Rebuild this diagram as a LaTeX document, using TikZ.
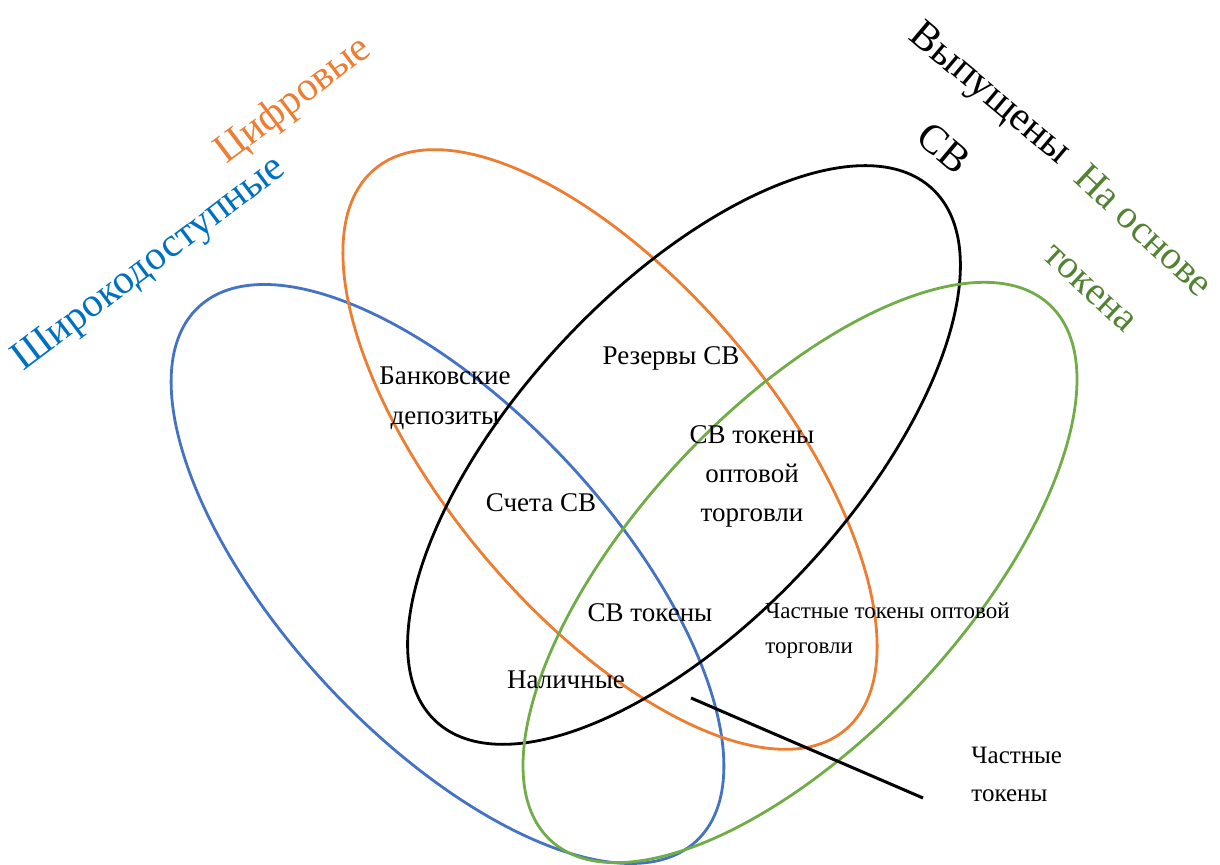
\documentclass[tikz,border=0pt]{standalone}
\usepackage{fontspec}
\setmainfont{Liberation Serif}
\definecolor{setblue}{HTML}{4472C4}
\definecolor{setorange}{HTML}{ED7D31}
\definecolor{setgreen}{HTML}{70AD47}
\definecolor{titleblue}{HTML}{0070C0}
\definecolor{titlegreen}{HTML}{548235}
\begin{document}
\begin{tikzpicture}[x=0.5pt,y=0.5pt,
  setline/.style={line width=1.4pt},
  title/.style={inner sep=0pt, align=center, font=\fontsize{20.5}{37}\selectfont},
  label/.style={inner sep=0pt, align=center, font=\fontsize{13.5}{20}\selectfont},
  smalllabel/.style={inner sep=0pt, align=left, anchor=west, font=\fontsize{12}{18}\selectfont}]
\useasboundingbox (0,0) rectangle (1220,865);

% the four sets
\draw[setline, setblue]   (447.5,291) ellipse [x radius=365, y radius=164, rotate=-47];
\draw[setline, setorange] (610,415.5) ellipse [x radius=366, y radius=165, rotate=-50];
\draw[setline, black]     (684,410)   ellipse [x radius=364, y radius=166, rotate=47];
\draw[setline, setgreen]  (800,292.5) ellipse [x radius=366, y radius=164, rotate=47];

% set titles
\node[title, text=titleblue, rotate=37] (wide) at (150,600) {Широкодоступные};
\node[title, text=setorange, rotate=37] (digital) at (294,764) {Цифровые};
\node[title, text=black, rotate=-40] (issued) at (968,745) {Выпущены\\СВ};
\node[title, text=titlegreen, rotate=-43, font=\fontsize{20}{38.5}\selectfont] (token) at (1118,607) {На основе\\токена};

% region labels
\node[label] (deposits) at (445,467) {Банковские\\депозиты};
\node[label] (reserves) at (671,507) {Резервы СВ};
\node[label, font=\fontsize{13.5}{19.5}\selectfont] (wholesale) at (752,389) {СВ токены\\оптовой\\торговли};
\node[label] (accounts) at (541,362) {Счета СВ};
\node[label] (cbtokens) at (650,252) {СВ токены};
\node[label] (cash) at (566,185) {Наличные};
\node[smalllabel, font=\fontsize{11.5}{17.5}\selectfont] (privwholesale) at (765,234.5) {Частные токены оптовой\\торговли};
\node[smalllabel, font=\fontsize{12.5}{19}\selectfont] (private) at (971,91) {Частные\\токены};

% pointer into the private-token region
\coordinate (ptrstart) at (691,167);
\coordinate (ptrend) at (923,67);
\draw[line width=1.5pt] (ptrstart) -- (ptrend);
\end{tikzpicture}
\end{document}
